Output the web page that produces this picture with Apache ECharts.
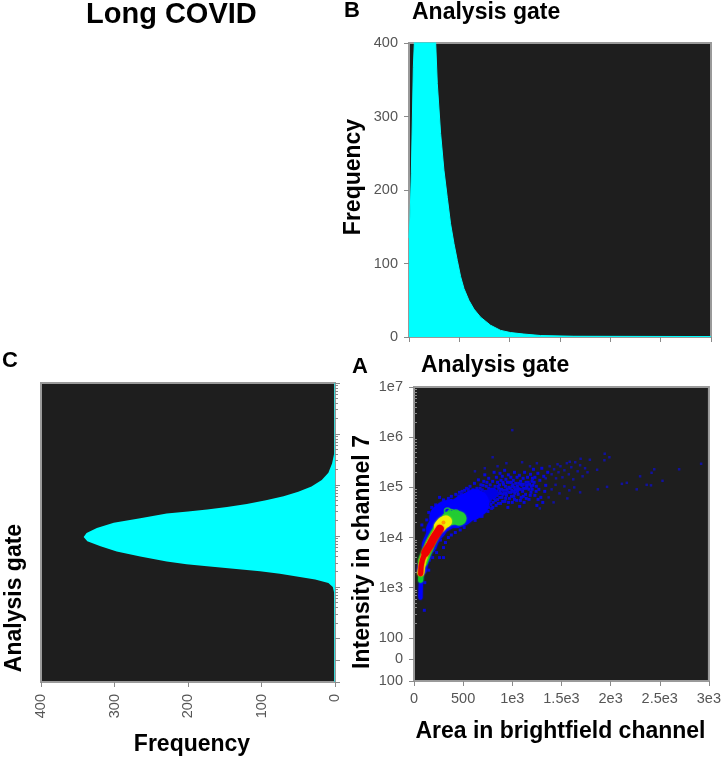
<!DOCTYPE html>
<html><head><meta charset="utf-8">
<style>html,body{margin:0;padding:0;background:#fff}#c{width:724px;height:758px}</style>
<script src="https://cdn.jsdelivr.net/npm/echarts@6/dist/echarts.min.js"></script>
</head><body><div id="c"></div>
<script>
// Shared tick labels: logicle axis is expressed in "decades" (1e4 -> 4, 100 -> 2)
const intensityTickValues = [1.14, 1.57, 2, 3, 4, 5, 6, 7];
const intensityTickLabels = ['100', '0', '100', '1e3', '1e4', '1e5', '1e6', '1e7'];
const areaTickValues = [0, 500, 1000, 1500, 2000, 2500, 3000];
const areaTickLabels = ['0', '500', '1e3', '1.5e3', '2e3', '2.5e3', '3e3'];

// Panel B: area histogram [area, frequency]
const histB = [[0,135],[10,160],[23,222],[43,367],[56,410],[150,480],[250,420],[265,400],[281,345],[314,277],[347,227],[380,190],[413,154],[447,127],[480,104],[513,82],[546,66],[595,50],[645,38],[711,27],[810,16],[910,9],[1009,6],[1141,4],[1307,2],[1637,1],[3000,0.6]];

// Panel C: intensity histogram [frequency, decades]
const histC = [[0.8,7],[0.8,5.9],[1,5.63],[4,5.42],[9,5.24],[18,5.1],[32,4.97],[50,4.87],[70,4.78],[94,4.7],[120,4.63],[147,4.57],[174,4.52],[200,4.48],[229,4.44],[265,4.35],[301,4.26],[324,4.16],[338,4.06],[342,3.98],[337,3.9],[319,3.8],[297,3.7],[265,3.6],[229,3.5],[202,3.45],[174,3.41],[138,3.36],[102,3.31],[75,3.26],[52,3.21],[27,3.15],[9,3.08],[3,3.0],[1,2.88],[0.8,1.14]];

// Panel A: density ridges and blobs [area, decades]
const blueTip = [[66,2.8],[67,2.95],[70,3.1],[74,3.22],[80,3.35]];
const blueBandS = [[80,3.35],[95,3.5],[110,3.58],[125,3.66],[140,3.74],[155,3.82]];
const blueBandM = [[155,3.84],[170,3.92],[185,3.98],[200,4.05],[225,4.14]];
const blueBandL = [[225,4.16],[250,4.24],[275,4.32],[300,4.38]];
const blueBandXL = [[300,4.4],[340,4.46],[380,4.48],[420,4.47],[470,4.5],[520,4.58],[570,4.62],[620,4.68]];
const blueBandThin = [[620,4.68],[680,4.74],[740,4.82],[800,4.88]];
const greenTip = [[68,3.15],[72,3.3],[80,3.42],[90,3.52]];
const greenBand = [[90,3.52],[105,3.6],[125,3.7],[145,3.78],[165,3.88],[190,3.98],[215,4.07],[240,4.15],[262,4.23],[290,4.3],[320,4.34]];
const greenBlob = [[355,4.38],[385,4.39],[415,4.4],[445,4.39],[462,4.38]];
const greenRings = [[340,4.53],[378,4.5],[425,4.49]];
const yellowBand = [[70,3.3],[78,3.42],[90,3.54],[108,3.64],[130,3.74],[152,3.84],[178,3.94],[205,4.03],[230,4.11],[255,4.19]];
const yellowBlob = [[265,4.22],[295,4.29],[325,4.32]];
const redLow = [[68,3.28],[72,3.42],[85,3.55],[100,3.63],[116,3.7]];
const redHigh = [[116,3.7],[140,3.78],[166,3.86],[190,3.95],[215,4.03],[240,4.1],[262,4.17]];
const orangeSpot = [[300,4.3]];
const dotsBright = [
[130,4.35],[150,4.5],[100,4.15],[220,4.65],[260,4.8],[180,4.6],[300,4.75],[80,4.25],[170,4.3],[210,4.5],[240,4.55],[290,4.62],[330,4.7],[350,4.78],[400,4.7],[380,4.82],[260,3.6],[300,3.8],[320,3.9],[350,4.0],[380,4.05],[420,4.1],[470,4.15],[510,4.2],[190,3.6],[230,3.7],[270,3.95],[105,2.55],[60,2.85],[300,3.6],[150,3.35],[110,3.1],[155,3.55],
[430,4.75],[455,4.83],[470,4.7],[490,4.92],[505,4.78],[520,4.86],[535,4.98],[545,4.75],[560,4.9],[570,5.02],[585,4.82],[600,4.95],[615,5.08],[625,4.85],[640,4.98],[655,5.15],[665,4.9],[680,5.05],[695,4.95],[710,5.12],[720,5.25],[735,5.02],[748,4.92],[760,5.18],[775,5.05],[785,4.96],[800,5.12],[815,5.3],[825,5.02],[838,5.2],[850,5.1],[862,4.98],[875,5.28],[885,5.14],[898,5.22],[910,5.06],[922,5.34],[935,5.16],[948,4.96],[960,5.25],[972,5.1],[985,5.2],[998,5.02],[1010,5.14],[1022,5.3],[1035,5.08],[1048,5.2],[1060,4.98],[1072,5.24],[1085,5.12],[1098,5.04],[1110,5.18],[1125,5.3],[1140,5.1],[1155,5.2],[1170,4.96],[1185,5.26],[1200,5.12],[1215,5.36],[1230,5.2],[1245,5.02],[1260,5.28],[1280,5.14],[1300,5.38],[1320,5.22],[1340,5.04],[1360,5.3],
[470,4.42],[505,4.44],[520,4.36],[540,4.5],[555,4.4],[575,4.55],[590,4.46],[610,4.58],[625,4.48],[640,4.4],[655,4.56],[670,4.66],[685,4.5],[700,4.6],[715,4.7],[730,4.54],[745,4.66],[760,4.6],[775,4.74],[790,4.58],[805,4.7],[820,4.82],[835,4.64],[850,4.76],[865,4.88],[880,4.68],[895,4.8],[910,4.94],[925,4.72],[940,4.84],[955,4.6],[970,4.78],[985,4.9],[1000,4.7],[1015,4.82],[1030,4.96],[1045,4.74],[1060,4.86],[1075,4.62],[1090,4.8],[1105,4.92],[1120,4.7],[1135,4.86],[1150,5.0],[1170,4.76],[1190,4.9],[1210,5.04],[1230,4.84],[1250,4.64],[1270,4.96],[1290,4.8],[1310,4.7],[1330,4.92],
[870,5.05],[890,4.96],[905,5.1],[930,5.02],[950,5.1],[965,5.0],[990,5.1],[1005,5.05],[1020,5.0],[1040,4.94],[1065,5.08],[760,4.98],[780,4.9],[720,4.92],[690,4.88],[650,4.88],[610,4.86],[575,4.84],[545,4.84],[510,4.7],[480,4.78],
[355,4.66],[372,4.74],[392,4.62],[412,4.66],[425,4.86],[445,4.72],[462,4.9],[482,4.86],[498,4.84],[515,4.94],[530,4.78],[552,4.96],[566,4.72],[598,4.78],[632,4.8],[646,4.94],[672,4.98],[702,5.04],[728,4.86],[742,5.1],[768,4.8],[795,4.84],[812,4.96],[842,4.92],[856,5.02],[882,4.88],[916,4.88],[942,4.94],[978,4.98],[1012,4.92],[1052,5.02],[1082,4.96],[1112,5.06],[1142,4.98],[1162,5.1],[1192,5.02],[1222,5.1],
[420,4.28],[445,4.22],[462,4.3],[485,4.28],[500,4.34],[535,4.3],[560,4.34],[582,4.38],[602,4.42],[622,4.34],[648,4.48],[668,4.42],[692,4.42],[712,4.52],[722,4.62],[752,4.52],[782,4.66],[802,4.6],[828,4.74],[858,4.68],[872,4.8],[902,4.72],[932,4.78],[962,4.7],[992,4.82],[1022,4.76],[1052,4.92],[1082,4.74],[1112,4.82],[1142,4.78],[1182,4.84],[1202,4.96],[1242,4.92],[1262,4.76],
[735,4.76],[765,4.72],[815,4.78],[845,4.84],[875,4.92],[905,4.86],[935,4.88],[965,4.9],[995,4.94],[1025,4.88],[1055,4.96],[1085,5.06],[1115,4.98],[1145,5.04],[1175,5.06],[1205,5.18]
];
const dotsDim = [
[2921,5.47],[2697,5.36],[2528,5.13],[2444,5.36],[2417,5.29],[2411,5.04],[2367,5.05],[2300,5.22],[2266,4.96],[2165,5.09],[2115,5.07],[1964,5.01],[1870,4.96],[1940,5.67],[1988,5.6],[1937,5.54],[1863,5.35],[1789,5.55],[1695,5.57],[1584,5.51],[1460,5.46],[1000,6.14],[800,5.6],
[1380,5.42],[1400,5.26],[1425,5.36],[1445,5.18],[1470,5.3],[1490,5.42],[1510,5.2],[1530,5.34],[1555,5.48],[1575,5.26],[1600,5.4],[1620,5.16],[1640,5.5],[1665,5.32],[1690,5.44],[1715,5.22],[1740,5.38],[1765,5.3],[1400,4.96],[1440,5.05],[1480,4.88],[1530,5.02],[1580,4.94],[1630,5.0],[1690,4.9],[1370,4.8],[1420,4.7],[1280,4.58],[1340,5.18],[1180,5.42],[1100,5.5],[940,5.48],[850,5.42],[720,5.38],[620,5.32],[1250,5.48],[1560,4.78]
];

// Minor tick positions of the log axis (decade + log10 of 2..9)
const minorTicks = [];
[2,3,4,5,6].forEach(d => [2,3,4,5,6,7,8,9].forEach(m => minorTicks.push(d + Math.log10(m))));

const font = 'Liberation Sans';
const frame = '#9a9a9a', plotBg = '#1e1e1e', cyan = '#00ffff', tickColor = '#8a8a8a', labelColor = '#555';
const bold = (size) => ({fontFamily: font, fontWeight: 'bold', fontSize: size, color: '#000'});
const head = (text, left, top, size) => ({text, left, top, padding: 0, textStyle: bold(size)});
const gridOf = (left, top, width, height) => ({left, top, width, height, show: true, backgroundColor: plotBg, borderColor: frame, borderWidth: 2});
const labelStyle = (margin, extra) => Object.assign({fontFamily: font, fontSize: 14.5, color: labelColor, margin}, extra || {});
const tick = (len) => ({show: true, length: len, lineStyle: {color: tickColor, width: 1}});
const line = {show: true, onZero: false, lineStyle: {color: frame, width: 1}};

const layer = (data, color, size, z, extra) => Object.assign({
  type: 'scatter', xAxisIndex: 2, yAxisIndex: 2, data, symbol: 'circle', symbolSize: size, z,
  itemStyle: {color, opacity: 1}, silent: true
}, extra || {});
const band = (data, color, width, z) => ({
  type: 'line', xAxisIndex: 2, yAxisIndex: 2, data, showSymbol: false, silent: true, z,
  lineStyle: {color, width, cap: 'round', join: 'round', shadowBlur: 2, shadowColor: color}
});

const option = {
  animation: false,
  title: [
    head('Long COVID', 86, 0, 29),
    head('B', 344, 0, 22),
    head('Analysis gate', 412, 1, 23),
    head('C', 2, 350, 22),
    head('A', 352, 356, 22),
    head('Analysis gate', 421, 354, 23)
  ],
  graphic: [{type: 'text', x: 15, y: 598, rotation: Math.PI / 2,
    style: {text: 'Analysis gate', align: 'center', verticalAlign: 'middle', font: 'bold 23px "Liberation Sans"', fill: '#000'}}],
  grid: [gridOf(409, 43, 302, 294), gridOf(41, 383, 294, 299), gridOf(414, 387, 297, 294)],
  xAxis: [
    {gridIndex: 0, type: 'value', min: 0, max: 3000, interval: 500, axisLabel: {show: false}, axisTick: tick(5), axisLine: line, splitLine: {show: false}},
    {gridIndex: 1, type: 'value', min: 0, max: 400, interval: 100, inverse: true,
      axisLabel: labelStyle(12, {rotate: 90}), axisTick: tick(5), axisLine: line, splitLine: {show: false},
      name: 'Frequency', nameLocation: 'middle', nameGap: 51, nameTextStyle: Object.assign(bold(23), {padding: [0, 0, 0, 8]})},
    {gridIndex: 2, type: 'value', min: 0, max: 3000, interval: 500,
      axisLabel: labelStyle(10, {customValues: areaTickValues, formatter: v => areaTickLabels[areaTickValues.indexOf(v)]}),
      axisTick: tick(5), axisLine: line, splitLine: {show: false},
      name: 'Area in brightfield channel', nameLocation: 'middle', nameGap: 39, nameTextStyle: Object.assign(bold(23), {padding: [0, 2, 0, 0]})}
  ],
  yAxis: [
    {gridIndex: 0, type: 'value', min: 0, max: 400, interval: 100,
      axisLabel: labelStyle(11), axisTick: tick(5), axisLine: line, splitLine: {show: false},
      name: 'Frequency', nameLocation: 'middle', nameGap: 44, nameTextStyle: Object.assign(bold(23), {padding: [0, 0, 0, 26]})},
    {gridIndex: 1, type: 'value', min: 1.14, max: 7, position: 'right',
      axisLabel: {show: false}, axisLine: line, splitLine: {show: false},
      axisTick: {show: true, length: 5, lineStyle: {color: tickColor, width: 1}, customValues: intensityTickValues}},
    {gridIndex: 2, type: 'value', min: 1.14, max: 7,
      axisLabel: labelStyle(11, {customValues: intensityTickValues, formatter: v => intensityTickLabels[intensityTickValues.indexOf(v)]}),
      axisLine: line, splitLine: {show: false},
      axisTick: {show: true, length: 5, lineStyle: {color: tickColor, width: 1}, customValues: intensityTickValues},
      name: 'Intensity in channel 7', nameLocation: 'middle', nameGap: 40, nameTextStyle: Object.assign(bold(23), {padding: [0, 36, 0, 0]})},
    {gridIndex: 2, type: 'value', min: 1.14, max: 7, axisLabel: {show: false}, axisLine: {show: false}, splitLine: {show: false},
      axisTick: {show: true, length: 3, lineStyle: {color: tickColor, width: 1}, customValues: minorTicks}},
    {gridIndex: 1, type: 'value', min: 1.14, max: 7, position: 'right', axisLabel: {show: false}, axisLine: {show: false}, splitLine: {show: false},
      axisTick: {show: true, length: 3, lineStyle: {color: tickColor, width: 1}, customValues: minorTicks}}
  ],
  series: [
    {type: 'line', xAxisIndex: 0, yAxisIndex: 0, data: histB, showSymbol: false, silent: true,
      lineStyle: {color: cyan, width: 1}, areaStyle: {color: cyan, opacity: 1}, clip: true},
    {type: 'custom', xAxisIndex: 1, yAxisIndex: 1, data: histC, silent: true, clip: true,
      encode: {x: 0, y: 1},
      renderItem: (params, api) => {
        if (params.dataIndex !== 0) return null;
        const pts = histC.map(p => api.coord(p));
        pts.push(api.coord([0, histC[histC.length - 1][1]]));
        pts.push(api.coord([0, histC[0][1]]));
        return {type: 'polygon', shape: {points: pts}, style: {fill: cyan}};
      }},
    layer(dotsDim, '#12129c', 2.5, 2, {symbol: 'rect'}),
    layer(dotsBright, '#0808d8', 3, 3, {symbol: 'rect'}),
    band(blueBandThin, '#0000e6', 10, 4),
    band(blueBandXL, '#0000ff', 28, 5),
    band(blueBandL, '#0000ff', 20, 5),
    band(blueBandM, '#0000ff', 15, 5),
    band(blueBandS, '#0000ff', 10, 5),
    band(blueTip, '#0000ff', 4, 5),
    layer(greenRings, 'transparent', 6, 6, {itemStyle: {color: 'transparent', borderColor: '#22cc33', borderWidth: 1.5}}),
    band(greenBlob, '#22cc33', 14, 6),
    band(greenBand, '#10d020', 10, 6),
    band(greenTip, '#10d020', 5, 6),
    band(yellowBand, '#e8ee00', 7, 7),
    band(yellowBlob, '#f4f000', 12, 7),
    band(redLow, '#ee0000', 5, 8),
    band(redHigh, '#ee0000', 8, 8),
    layer(orangeSpot, '#ff9a00', 4, 9)
  ]
};
echarts.init(document.getElementById('c'), null, {renderer: 'canvas'}).setOption(option);
</script></body></html>
